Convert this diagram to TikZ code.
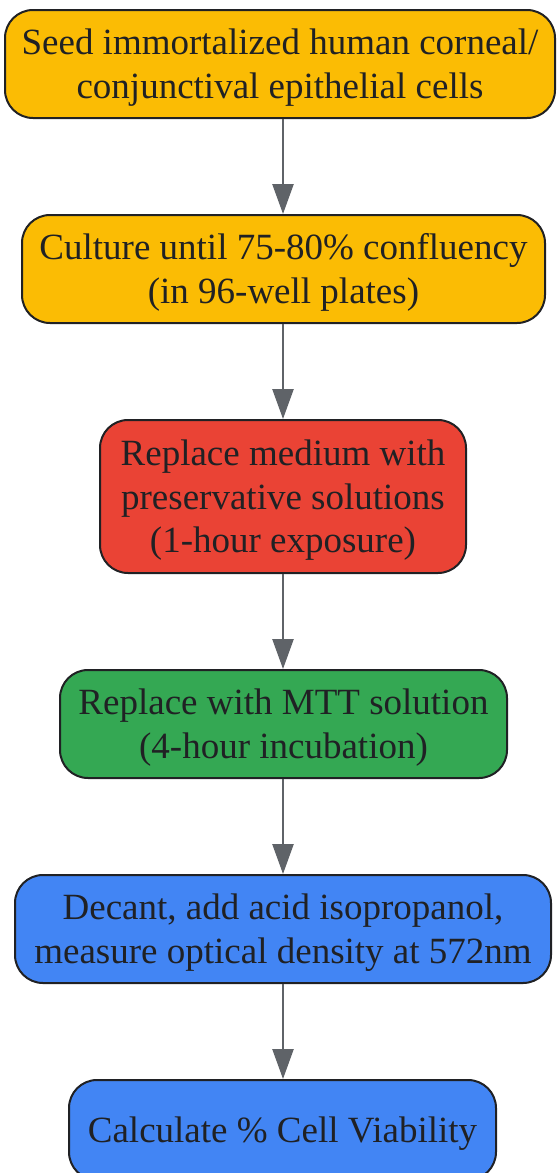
\documentclass[tikz,border=0pt]{standalone}
\usepackage{fontspec}
\setmainfont{Liberation Serif}
\usetikzlibrary{arrows.meta}
\definecolor{gyellow}{HTML}{FBBC04}
\definecolor{gred}{HTML}{EA4335}
\definecolor{ggreen}{HTML}{34A853}
\definecolor{gblue}{HTML}{4285F4}
\definecolor{edgegray}{HTML}{5F6368}
\definecolor{ink}{HTML}{202124}
\tikzset{
  stepbox/.style={draw=ink, line width=2pt, rounded corners=28pt, text=ink,
    align=flush center, font=\fontsize{37}{43.5}\selectfont, inner sep=0pt,
    minimum width=#1, text width=#1-4pt,
    execute at begin node={\rule{0pt}{33pt}}},
  flow/.style={draw=edgegray, line width=2.5pt, -{Triangle[length=30pt,width=21pt]}},
}
\begin{document}
\begin{tikzpicture}[x=1pt,y=-1pt]
\useasboundingbox (0,0) rectangle (557,1173);
\begin{scope}
\clip (0,0) rectangle (557,1173);
\node[stepbox=550pt, fill=gyellow, minimum height=108pt] (s1) at (280,64) {Seed immortalized human corneal/\\conjunctival epithelial cells};
\node[stepbox=523pt, fill=gyellow, minimum height=108pt] (s2) at (283.5,269) {Culture until 75-80\% confluency\\(in 96-well plates)};
\node[stepbox=366pt, fill=gred, minimum height=153pt] (s3) at (283,496.5) {Replace medium with\\preservative solutions\\(1-hour exposure)};
\node[stepbox=447pt, fill=ggreen, minimum height=108pt] (s4) at (283.5,724) {Replace with MTT solution\\(4-hour incubation)};
\node[stepbox=536pt, fill=gblue, minimum height=108pt] (s5) at (283,929) {Decant, add acid isopropanol,\\measure optical density at 572nm};
\node[stepbox=427pt, fill=gblue, minimum height=100pt] (s6) at (282.5,1130) {Calculate \% Cell Viability};
\end{scope}
\draw[flow] (s1.south -| 283,0) -- (s2.north -| 283,0);
\draw[flow] (s2.south -| 283,0) -- (s3.north -| 283,0);
\draw[flow] (s3.south -| 283,0) -- (s4.north -| 283,0);
\draw[flow] (s4.south -| 283,0) -- (s5.north -| 283,0);
\draw[flow] (s5.south -| 283,0) -- (s6.north -| 283,0);
\end{tikzpicture}
\end{document}
